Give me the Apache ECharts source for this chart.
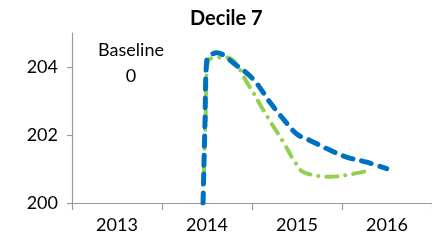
<!DOCTYPE html>
<html>
<head>
<meta charset="utf-8">
<script src="https://cdn.jsdelivr.net/npm/echarts@6/dist/echarts.min.js"></script>
<style>
  html, body { margin: 0; padding: 0; background: #fff; }
  #chart { width: 432px; height: 244px; }
</style>
</head>
<body>
<div id="chart"></div>
<script>
// years shown on the x axis, ticks sit half way between them
const years = [2013, 2014, 2015, 2016];
const yearTicks = [2012.5, 2013.5, 2014.5, 2015.5, 2016.5];
const yTicks = [200, 202, 204];

// blue dashed series [year, value]
const blueX = [2013.956, 2013.978, 2013.997, 2014.108, 2014.311, 2014.514, 2014.7, 2014.848, 2014.997, 2015.144, 2015.33, 2015.552, 2015.774, 2015.997];
const blueY = [200.0, 202.4, 204.18, 204.42, 204.08, 203.64, 202.96, 202.47, 202.03, 201.84, 201.6, 201.35, 201.2, 201.01];

// green dash-dot series
const greenX = [2013.956, 2013.985, 2014.014, 2014.219, 2014.478, 2014.608, 2014.719, 2014.848, 2014.978, 2015.07, 2015.367, 2015.608, 2015.811];
const greenY = [200.0, 202.5, 204.2, 204.28, 203.4, 202.81, 202.33, 201.79, 201.2, 200.91, 200.77, 200.85, 200.96];

const zip = (xs, ys) => xs.map((x, i) => [x, ys[i]]);

const font = 'Lato, "Open Sans", sans-serif';

var myChart = echarts.init(document.getElementById('chart'));
var option = {
  animation: false,
  backgroundColor: '#fff',
  title: {
    text: 'Decile 7',
    left: 185,
    top: 4,
    textStyle: { fontFamily: font, fontSize: 20, fontWeight: 'bold', color: '#000' }
  },
  graphic: [
    {
      type: 'text',
      x: 131,
      y: 37,
      style: { text: 'Baseline\n0', textAlign: 'center', align: 'center', fontFamily: font, fontSize: 18, lineHeight: 26, fill: '#000' }
    }
  ],
  grid: { left: 72, right: 0, top: 33, bottom: 41 },
  xAxis: {
    type: 'value',
    min: 2012.5,
    max: 2016.5,
    splitLine: { show: false },
    axisLine: { show: true, lineStyle: { color: '#9a9a9a', width: 1.2 } },
    axisTick: { show: true, length: 7, customValues: yearTicks, lineStyle: { color: '#9a9a9a', width: 1.2 } },
    axisLabel: {
      customValues: years,
      margin: 13,
      formatter: v => String(v),
      fontFamily: font, fontSize: 18, color: '#000'
    }
  },
  yAxis: {
    type: 'value',
    min: 200,
    max: 205,
    splitLine: { show: false },
    axisLine: { show: true, lineStyle: { color: '#9a9a9a', width: 1.2 } },
    axisTick: { show: true, length: 5, customValues: yTicks, lineStyle: { color: '#9a9a9a', width: 1.2 } },
    axisLabel: {
      customValues: yTicks,
      margin: 14,
      fontFamily: font, fontSize: 18, color: '#000'
    }
  },
  series: [
    {
      name: 'green',
      type: 'line',
      data: zip(greenX, greenY),
      smooth: 0.35,
      symbol: 'none',
      lineStyle: { color: '#92D050', width: 4, type: [11, 8, 0.1, 8], cap: 'round' }
    },
    {
      name: 'blue',
      type: 'line',
      data: zip(blueX, blueY),
      smooth: 0.35,
      symbol: 'none',
      lineStyle: { color: '#0070C0', width: 5, type: [10, 9], cap: 'round' }
    }
  ]
};

option && myChart.setOption(option);
</script>
</body>
</html>
